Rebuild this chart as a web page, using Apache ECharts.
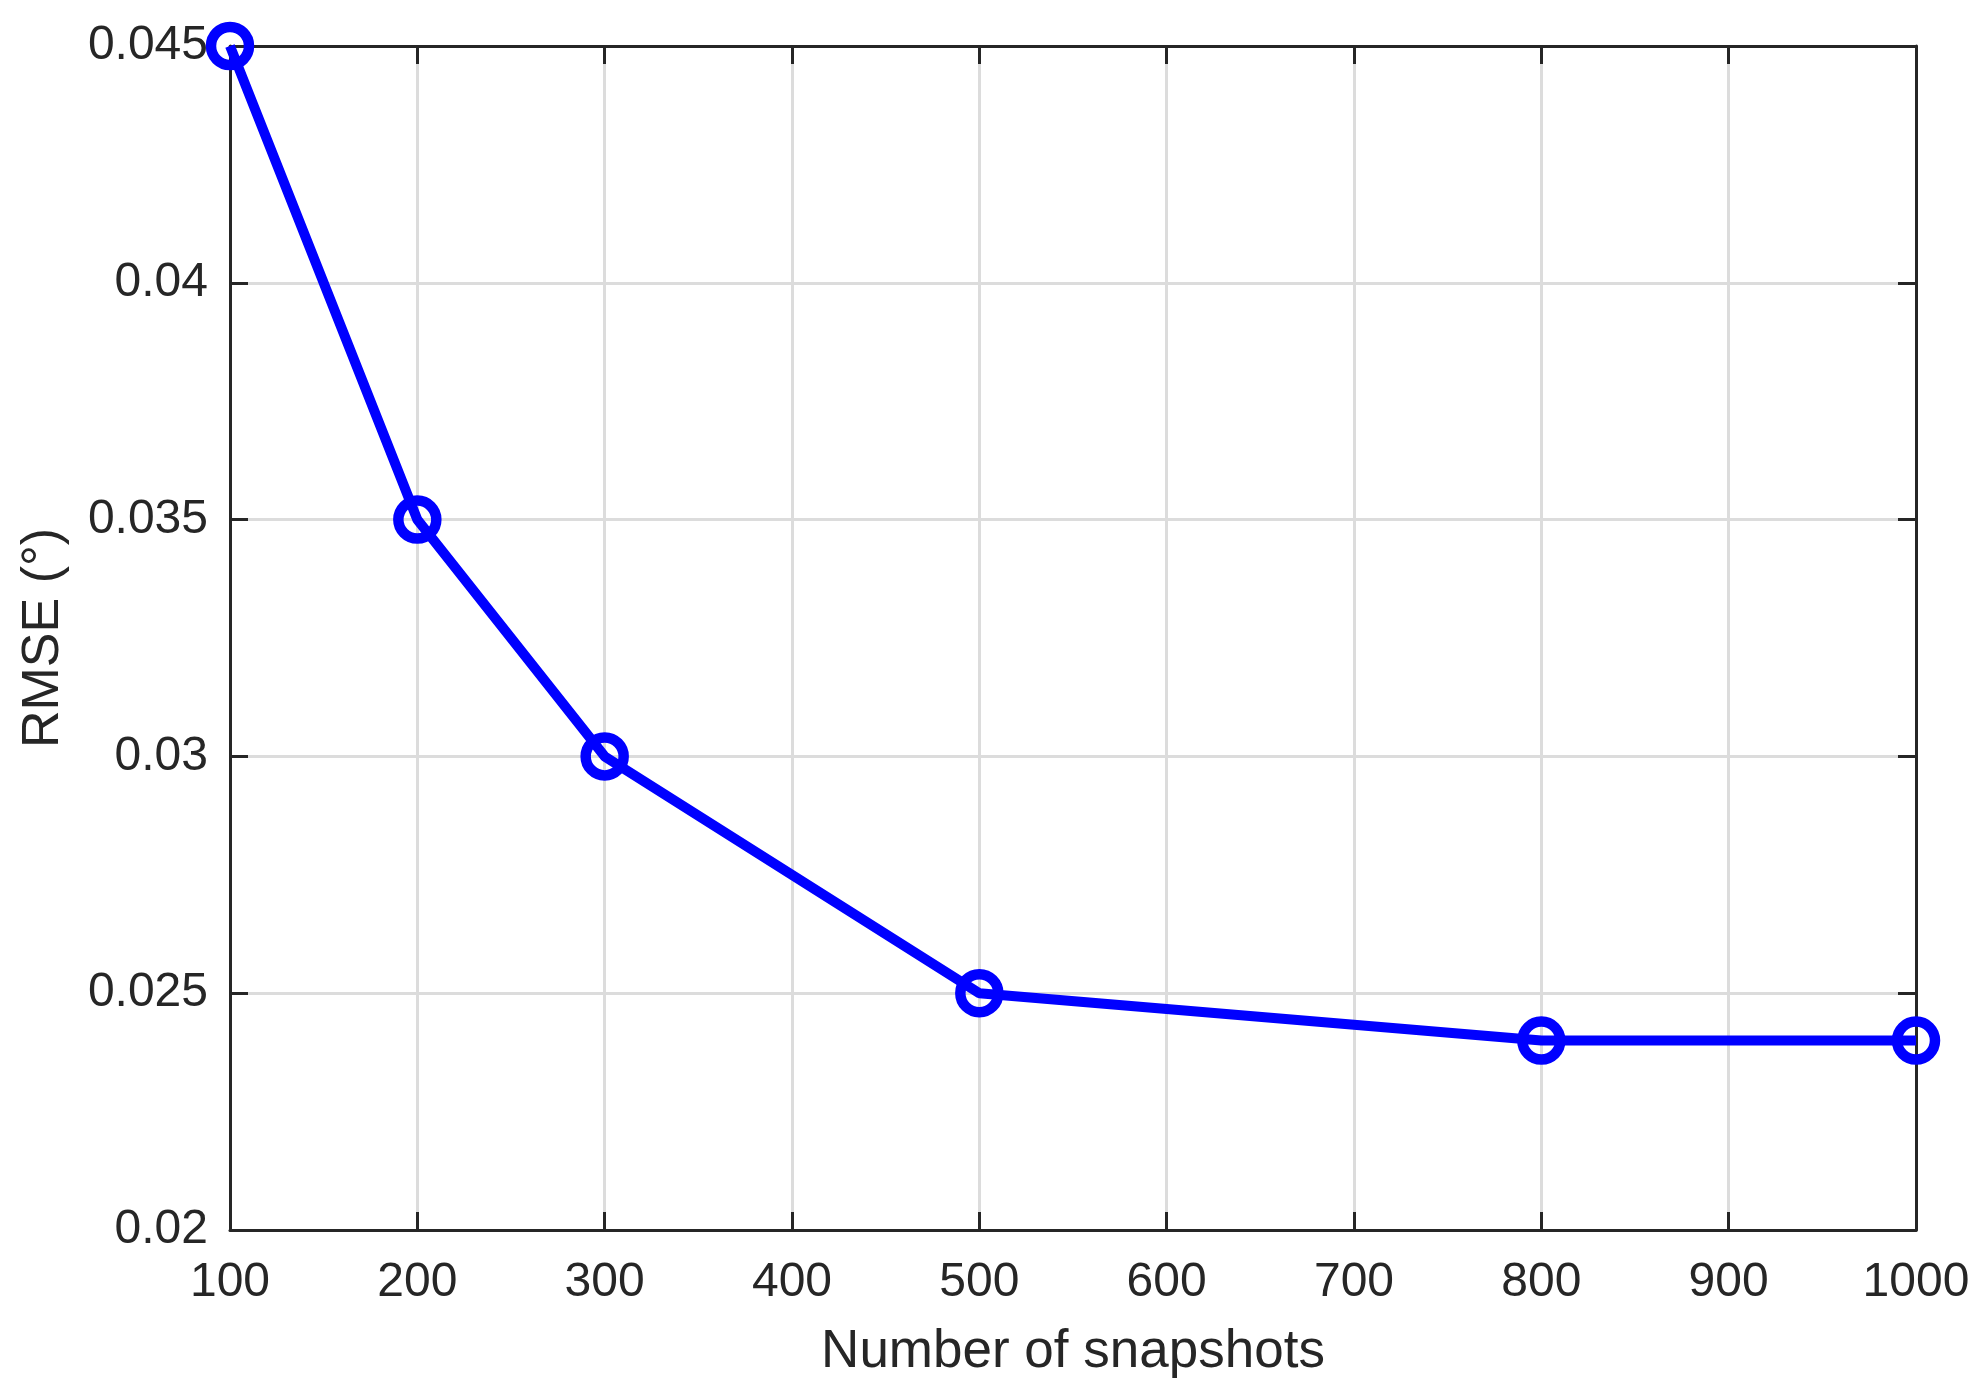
<!DOCTYPE html>
<html>
<head>
<meta charset="utf-8">
<script src="https://cdn.jsdelivr.net/npm/echarts@6/dist/echarts.min.js"></script>
<style>html,body{margin:0;padding:0;background:#fff;}#c{width:1978px;height:1388px;}</style>
</head>
<body>
<div id="c"></div>
<script>
const snapshots = [100, 200, 300, 500, 800, 1000];
const rmse = [0.045, 0.035, 0.030, 0.025, 0.024, 0.024];
const xTicks = [100, 200, 300, 400, 500, 600, 700, 800, 900, 1000];
const yTicks = [0.02, 0.025, 0.03, 0.035, 0.04, 0.045];
const xTitle = 'Number of snapshots';
const yTitle = 'RMSE (°)';

const FONT = 'Arial, "Liberation Sans", sans-serif';
const AX = '#262626';
const chart = echarts.init(document.getElementById('c'), null, {renderer: 'canvas'});
const common = {
  axisLine: {show: true, lineStyle: {color: AX, width: 3}},
  axisTick: {show: true, inside: true, length: 18, lineStyle: {color: AX, width: 3}},
};
chart.setOption({
  animation: false,
  backgroundColor: '#fff',
  grid: {left: 230, right: 62, top: 46, bottom: 158, containLabel: false},
  xAxis: [{
    type: 'value', min: xTicks[0], max: xTicks[xTicks.length - 1], interval: 100,
    position: 'bottom',
    name: xTitle, nameLocation: 'middle', nameGap: 96,
    nameTextStyle: {fontFamily: FONT, fontSize: 53, color: AX},
    ...common,
    axisLabel: {fontFamily: FONT, fontSize: 48, color: AX, margin: 29,
      formatter: v => String(v)},
    splitLine: {show: true, lineStyle: {color: '#dcdcdc', width: 3}}
  }, {
    type: 'value', min: xTicks[0], max: xTicks[xTicks.length - 1], interval: 100,
    position: 'top', ...common, axisLabel: {show: false}, splitLine: {show: false}
  }],
  yAxis: [{
    type: 'value', min: yTicks[0], max: yTicks[yTicks.length - 1], interval: 0.005,
    position: 'left',
    name: yTitle, nameLocation: 'middle', nameGap: 160,
    nameTextStyle: {fontFamily: FONT, fontSize: 52, color: AX},
    ...common,
    axisLabel: {fontFamily: FONT, fontSize: 48, color: AX, margin: 22,
      formatter: v => String(Math.round(v * 1000) / 1000)},
    splitLine: {show: true, lineStyle: {color: '#dcdcdc', width: 3}}
  }, {
    type: 'value', min: yTicks[0], max: yTicks[yTicks.length - 1], interval: 0.005,
    position: 'right', ...common, axisLabel: {show: false}, splitLine: {show: false}
  }],
  series: [{
    type: 'line',
    data: snapshots.map((s, i) => [s, rmse[i]]),
    clip: false,
    symbol: 'circle',
    symbolSize: 38,
    lineStyle: {color: '#0000ff', width: 10},
    itemStyle: {color: 'rgba(0,0,0,0)', borderColor: '#0000ff', borderWidth: 10.5},
    z: 5
  }]
});
</script>
</body>
</html>
